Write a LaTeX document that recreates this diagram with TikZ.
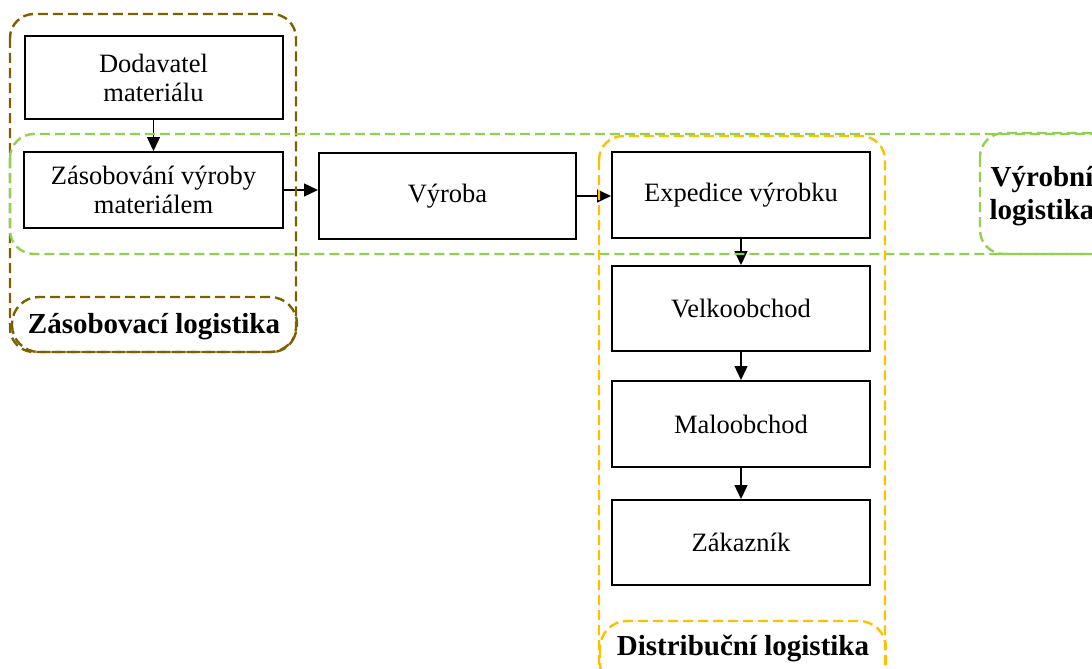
\documentclass[tikz,border=0pt]{standalone}
\usepackage{fontspec}
\setmainfont{Liberation Serif}
\usetikzlibrary{arrows.meta}
\definecolor{brownline}{HTML}{7F6000}
\definecolor{greenline}{HTML}{92D050}
\definecolor{yellowline}{HTML}{FFC000}
\tikzset{
  stepbox/.style={draw, line width=2pt, minimum width=258pt, inner sep=0pt, align=center,
    font=\fontsize{26.5}{29}\selectfont},
  flow/.style={line width=1.4pt, -{Triangle[length=14pt,width=13pt]}},
  grp/.style={line width=2.4pt, dash pattern=on 10pt off 5pt, rounded corners=24pt},
  grplabel/.style={font=\bfseries\fontsize{29}{33}\selectfont, align=center, inner sep=0pt}
}
\begin{document}
\begin{tikzpicture}[x=1pt,y=-1pt]
\useasboundingbox (0,0) rectangle (1092,669);
\clip (0,0) rectangle (1092,669);

% process boxes
\node[stepbox, minimum height=83pt] (dod) at (153.5,77.5) {Dodavatel\\materiálu};
\node[stepbox, minimum height=76pt, minimum width=259pt] (zas) at (153.5,190) {Zásobování výroby\\materiálem};
\node[stepbox, minimum height=86pt, minimum width=257pt] (vyr) at (447.5,196) {Výroba};
\node[stepbox, minimum height=86pt] (exp) at (741,195) {Expedice výrobku};
\node[stepbox, minimum height=85pt] (vel) at (741,308.5) {Velkoobchod};
\node[stepbox, minimum height=86pt] (mal) at (741,424) {Maloobchod};
\node[stepbox, minimum height=85pt] (zak) at (741,542.5) {Zákazník};

% connectors
\draw[flow] (dod.south) -- (zas.north);
\draw[flow] (zas.east) -- (zas.east -| vyr.west);
\draw[flow] (vyr.east) -- (vyr.east -| exp.west);
\draw[flow] (exp.south) -- (vel.north);
\draw[flow] (vel.south) -- (mal.north);
\draw[flow] (mal.south) -- (zak.north);

% supply logistics group
\draw[grp, brownline] (10,14) rectangle (296,352);
\draw[grp, brownline, rounded corners=27pt] (12,297) rectangle (297,352);
\node[grplabel] (zaslab) at (154,327) {Zásobovací logistika};

% production logistics group
\draw[grp, greenline] (10,134) rectangle (1130,254);
\draw[grp, greenline] (980,133) rectangle (1130,254);
\node[grplabel] (vyrlab) at (1042,196) {Výrobní\\logistika};

% distribution logistics group
\draw[grp, yellowline] (599,136) rectangle (885,700);
\draw[grp, yellowline, rounded corners=27pt] (600,621) rectangle (886,690);
\node[grplabel] (dislab) at (743,648) {Distribuční logistika};
\end{tikzpicture}
\end{document}
